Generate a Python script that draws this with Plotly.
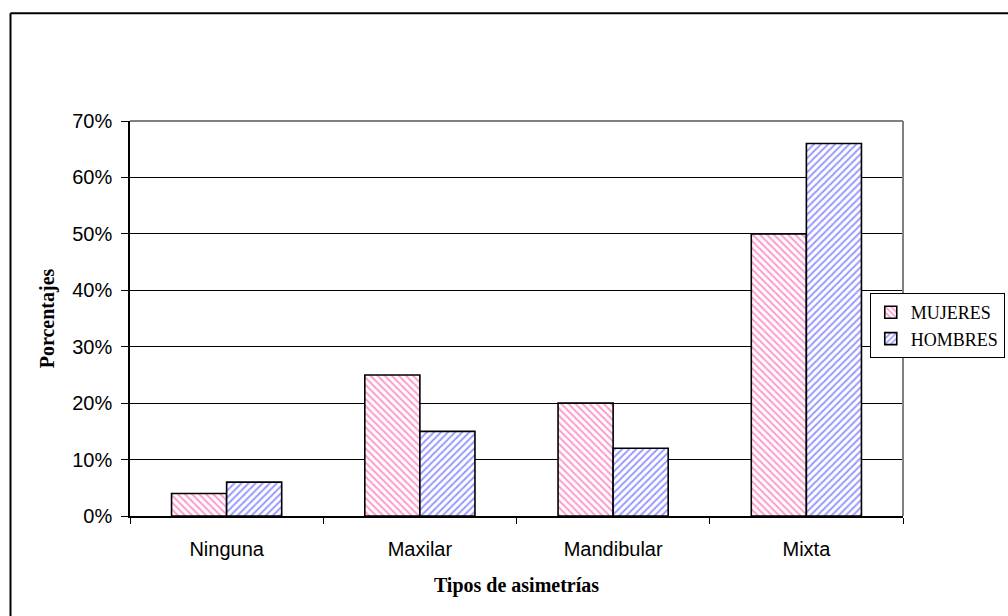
import plotly.graph_objects as go

# Datos: porcentaje de cada tipo de asimetría por sexo
categorias = ["Ninguna", "Maxilar", "Mandibular", "Mixta"]
mujeres = [0.04, 0.25, 0.20, 0.50]
hombres = [0.06, 0.15, 0.12, 0.66]
ticks_y = [0, 0.1, 0.2, 0.3, 0.4, 0.5, 0.6, 0.7]

SANS = "Liberation Sans, Arial, sans-serif"
SERIF = "Liberation Serif, Times New Roman, serif"

fig = go.Figure()
fig.add_trace(go.Bar(
    x=categorias, y=mujeres, name="MUJERES",
    marker=dict(
        color="white",
        line=dict(color="black", width=1.6),
        pattern=dict(shape="\\", fgcolor="#ff99cc", bgcolor="white",
                     size=5, solidity=0.4, fillmode="replace"),
    ),
))
fig.add_trace(go.Bar(
    x=categorias, y=hombres, name="HOMBRES",
    marker=dict(
        color="white",
        line=dict(color="black", width=1.6),
        pattern=dict(shape="/", fgcolor="#9999ff", bgcolor="white",
                     size=5, solidity=0.4, fillmode="replace"),
    ),
))

# Marco exterior (bordes izquierdo y superior) y borde gris del área de trazado
frame = dict(type="line", xref="paper", yref="paper", line=dict(color="black", width=2))
fig.add_shape(**frame, x0=-0.1546, x1=-0.1546, y0=-0.3, y1=1.273)
fig.add_shape(**frame, x0=-0.1546, x1=1.3, y0=1.273, y1=1.273)
gris = dict(type="line", xref="paper", yref="paper", layer="above",
            line=dict(color="#808080", width=2))
fig.add_shape(**gris, x0=0, x1=1, y0=1, y1=1)
fig.add_shape(**gris, x0=1, x1=1, y0=0, y1=1)

fig.update_layout(
    width=1008, height=616,
    margin=dict(l=130, r=105, t=121, b=100, autoexpand=False),
    paper_bgcolor="white", plot_bgcolor="white",
    barmode="group", bargap=0.43, bargroupgap=0,
    showlegend=True,
    legend=dict(
        x=0.957, y=0.5646, xanchor="left", yanchor="top",
        bgcolor="white", bordercolor="black", borderwidth=1,
        font=dict(family=SERIF, size=18, color="black"),
        itemwidth=30, tracegroupgap=0,
    ),
    xaxis=dict(
        type="category", tickson="boundaries",
        ticks="outside", ticklen=6, tickcolor="black", tickwidth=1,
        showline=True, linecolor="black", linewidth=1.5,
        showgrid=False, ticklabelstandoff=14,
        tickfont=dict(family=SANS, size=20, color="black"),
        title=dict(text="<b>Tipos de asimetrías</b>", standoff=19,
                   font=dict(family=SERIF, size=20, color="black")),
    ),
    yaxis=dict(
        range=[0, 0.7], tickvals=ticks_y, tickformat=".0%",
        ticks="outside", ticklen=7, tickcolor="black", tickwidth=1,
        showline=True, linecolor="black", linewidth=1.5,
        showgrid=True, gridcolor="black", gridwidth=1,
        zeroline=False, ticklabelstandoff=5,
        tickfont=dict(family=SANS, size=20, color="black"),
        title=dict(text="<b>Porcentajes</b>", standoff=12,
                   font=dict(family=SERIF, size=20, color="black")),
    ),
)

fig.write_html("out.html")
